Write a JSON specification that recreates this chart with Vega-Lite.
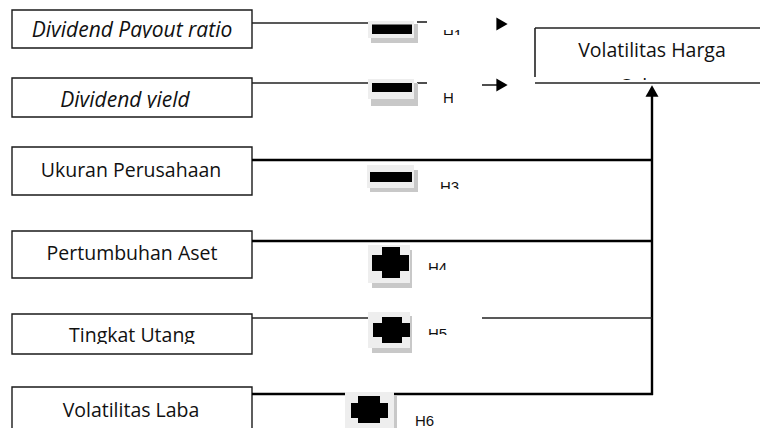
{
  "$schema": "https://vega.github.io/schema/vega-lite/v6.json",
  "width": 760,
  "height": 428,
  "autosize": {"type": "none"},
  "padding": 0,
  "background": "white",
  "config": {"view": {"stroke": null}},
  "datasets": {
    "boxes": [
      {"x": 12, "x2": 252, "y": 10, "y2": 48},
      {"x": 12, "x2": 252, "y": 78, "y2": 117},
      {"x": 12, "x2": 252, "y": 147, "y2": 195},
      {"x": 12, "x2": 252, "y": 231, "y2": 278},
      {"x": 12, "x2": 252, "y": 314, "y2": 354},
      {"x": 12, "x2": 252, "y": 387, "y2": 440}
    ],
    "labels": [
      {"label": "Ukuran Perusahaan", "x": 131, "y": 177},
      {"label": "Pertumbuhan Aset", "x": 132, "y": 260},
      {"label": "Tingkat Utang", "x": 132, "y": 342},
      {"label": "Volatilitas Laba", "x": 131, "y": 417},
      {"label": "Volatilitas Harga", "x": 652, "y": 57},
      {"label": "Saham", "x": 652, "y": 93}
    ],
    "italicLabels": [
      {"label": "Dividend Payout ratio", "x": 132, "y": 37},
      {"label": "Dividend yield", "x": 125, "y": 107}
    ],
    "hyp": [
      {"label": "H1", "x": 443, "y": 40},
      {"label": "H2", "x": 443, "y": 103},
      {"label": "H3", "x": 440, "y": 192},
      {"label": "H4", "x": 428, "y": 273},
      {"label": "H5", "x": 428, "y": 339},
      {"label": "H6", "x": 415, "y": 426}
    ],
    "masks": [
      {"x": 20, "x2": 245, "y": 38, "y2": 46},
      {"x": 20, "x2": 245, "y": 108, "y2": 115},
      {"x": 20, "x2": 245, "y": 344, "y2": 351},
      {"x": 540, "x2": 756, "y": 80, "y2": 100},
      {"x": 436, "x2": 466, "y": 35, "y2": 50},
      {"x": 453, "x2": 472, "y": 88, "y2": 110},
      {"x": 436, "x2": 466, "y": 189, "y2": 205},
      {"x": 424, "x2": 452, "y": 270, "y2": 285},
      {"x": 424, "x2": 452, "y": 335, "y2": 350}
    ],
    "thick": [
      {"x": 252, "y": 160, "x2": 652, "y2": 160},
      {"x": 252, "y": 241, "x2": 652, "y2": 241},
      {"x": 252, "y": 394, "x2": 653, "y2": 394},
      {"x": 652, "y": 92, "x2": 652, "y2": 395}
    ],
    "thin": [
      {"x": 252, "y": 23, "x2": 368, "y2": 23},
      {"x": 252, "y": 83, "x2": 368, "y2": 83},
      {"x": 252, "y": 318, "x2": 370, "y2": 318},
      {"x": 482, "y": 318, "x2": 652, "y2": 318},
      {"x": 417, "y": 22, "x2": 427, "y2": 22},
      {"x": 417, "y": 83, "x2": 427, "y2": 83},
      {"x": 482, "y": 85, "x2": 500, "y2": 85},
      {"x": 535, "y": 28, "x2": 762, "y2": 28},
      {"x": 535, "y": 83, "x2": 762, "y2": 83},
      {"x": 535, "y": 28, "x2": 535, "y2": 77}
    ],
    "heads": [
      {"x": 502, "y": 24, "dir": "right"},
      {"x": 502, "y": 85, "dir": "right"},
      {"x": 652, "y": 91, "dir": "up"}
    ],
    "shadows": [
      {"x": 371, "x2": 418, "y": 24, "y2": 43},
      {"x": 371, "x2": 418, "y": 83, "y2": 106},
      {"x": 370, "x2": 418, "y": 170, "y2": 192},
      {"x": 372, "x2": 412, "y": 250, "y2": 288},
      {"x": 372, "x2": 412, "y": 316, "y2": 353},
      {"x": 349, "x2": 397, "y": 396, "y2": 430}
    ],
    "faces": [
      {"x": 368, "x2": 414, "y": 21, "y2": 38},
      {"x": 368, "x2": 414, "y": 79, "y2": 99},
      {"x": 367, "x2": 414, "y": 165, "y2": 188},
      {"x": 368, "x2": 410, "y": 245, "y2": 283},
      {"x": 368, "x2": 410, "y": 312, "y2": 348},
      {"x": 345, "x2": 394, "y": 392, "y2": 428}
    ],
    "bars": [
      {"x": 372, "x2": 412, "y": 24.5, "y2": 34},
      {"x": 372, "x2": 412, "y": 83, "y2": 92},
      {"x": 370, "x2": 412, "y": 172, "y2": 182},
      {"x": 372, "x2": 409, "y": 255, "y2": 271},
      {"x": 382, "x2": 400, "y": 247, "y2": 278},
      {"x": 373, "x2": 410, "y": 323, "y2": 337},
      {"x": 382, "x2": 402, "y": 317, "y2": 343},
      {"x": 351, "x2": 388, "y": 403, "y2": 418},
      {"x": 358, "x2": 380, "y": 396, "y2": 423}
    ]
  },
  "layer": [
    {
      "data": {"name": "boxes"},
      "mark": {"type": "rect", "fill": "white", "stroke": "#1a1a1a", "strokeWidth": 1.4},
      "encoding": {
        "x": {"field": "x", "type": "quantitative", "scale": {"domain": [0, 760], "nice": false, "zero": false}, "axis": null},
        "x2": {"field": "x2"},
        "y": {"field": "y", "type": "quantitative", "scale": {"domain": [0, 428], "nice": false, "zero": false, "reverse": true}, "axis": null},
        "y2": {"field": "y2"}
      }
    },
    {
      "data": {"name": "labels"},
      "mark": {"type": "text", "font": "Open Sans", "fontSize": 19.5, "align": "center", "baseline": "alphabetic", "fill": "#111"},
      "encoding": {
        "x": {"field": "x", "type": "quantitative", "scale": {"domain": [0, 760], "nice": false, "zero": false}, "axis": null},
        "y": {"field": "y", "type": "quantitative", "scale": {"domain": [0, 428], "nice": false, "zero": false, "reverse": true}, "axis": null},
        "text": {"field": "label"}
      }
    },
    {
      "data": {"name": "italicLabels"},
      "mark": {"type": "text", "font": "Open Sans", "fontSize": 21, "fontStyle": "italic", "align": "center", "baseline": "alphabetic", "fill": "#111"},
      "encoding": {
        "x": {"field": "x", "type": "quantitative", "scale": {"domain": [0, 760], "nice": false, "zero": false}, "axis": null},
        "y": {"field": "y", "type": "quantitative", "scale": {"domain": [0, 428], "nice": false, "zero": false, "reverse": true}, "axis": null},
        "text": {"field": "label"}
      }
    },
    {
      "data": {"name": "hyp"},
      "mark": {"type": "text", "font": "Liberation Sans", "fontSize": 15, "align": "left", "baseline": "alphabetic", "fill": "#111"},
      "encoding": {
        "x": {"field": "x", "type": "quantitative", "scale": {"domain": [0, 760], "nice": false, "zero": false}, "axis": null},
        "y": {"field": "y", "type": "quantitative", "scale": {"domain": [0, 428], "nice": false, "zero": false, "reverse": true}, "axis": null},
        "text": {"field": "label"}
      }
    },
    {
      "data": {"name": "masks"},
      "mark": {"type": "rect", "fill": "white"},
      "encoding": {
        "x": {"field": "x", "type": "quantitative", "scale": {"domain": [0, 760], "nice": false, "zero": false}, "axis": null},
        "x2": {"field": "x2"},
        "y": {"field": "y", "type": "quantitative", "scale": {"domain": [0, 428], "nice": false, "zero": false, "reverse": true}, "axis": null},
        "y2": {"field": "y2"}
      }
    },
    {
      "data": {"name": "thick"},
      "mark": {"type": "rule", "stroke": "#000", "strokeWidth": 2.4},
      "encoding": {
        "x": {"field": "x", "type": "quantitative", "scale": {"domain": [0, 760], "nice": false, "zero": false}, "axis": null},
        "x2": {"field": "x2"},
        "y": {"field": "y", "type": "quantitative", "scale": {"domain": [0, 428], "nice": false, "zero": false, "reverse": true}, "axis": null},
        "y2": {"field": "y2"}
      }
    },
    {
      "data": {"name": "thin"},
      "mark": {"type": "rule", "stroke": "#222", "strokeWidth": 1.6},
      "encoding": {
        "x": {"field": "x", "type": "quantitative", "scale": {"domain": [0, 760], "nice": false, "zero": false}, "axis": null},
        "x2": {"field": "x2"},
        "y": {"field": "y", "type": "quantitative", "scale": {"domain": [0, 428], "nice": false, "zero": false, "reverse": true}, "axis": null},
        "y2": {"field": "y2"}
      }
    },
    {
      "data": {"name": "heads"},
      "mark": {"type": "point", "filled": true, "fill": "#000", "size": 170, "opacity": 1},
      "encoding": {
        "x": {"field": "x", "type": "quantitative", "scale": {"domain": [0, 760], "nice": false, "zero": false}, "axis": null},
        "y": {"field": "y", "type": "quantitative", "scale": {"domain": [0, 428], "nice": false, "zero": false, "reverse": true}, "axis": null},
        "shape": {"field": "dir", "type": "nominal", "scale": {"domain": ["right", "up"], "range": ["triangle-right", "triangle-up"]}, "legend": null}
      }
    },
    {
      "data": {"name": "shadows"},
      "mark": {"type": "rect", "fill": "#c8c8c8"},
      "encoding": {
        "x": {"field": "x", "type": "quantitative", "scale": {"domain": [0, 760], "nice": false, "zero": false}, "axis": null},
        "x2": {"field": "x2"},
        "y": {"field": "y", "type": "quantitative", "scale": {"domain": [0, 428], "nice": false, "zero": false, "reverse": true}, "axis": null},
        "y2": {"field": "y2"}
      }
    },
    {
      "data": {"name": "faces"},
      "mark": {"type": "rect", "fill": "#eeeeee"},
      "encoding": {
        "x": {"field": "x", "type": "quantitative", "scale": {"domain": [0, 760], "nice": false, "zero": false}, "axis": null},
        "x2": {"field": "x2"},
        "y": {"field": "y", "type": "quantitative", "scale": {"domain": [0, 428], "nice": false, "zero": false, "reverse": true}, "axis": null},
        "y2": {"field": "y2"}
      }
    },
    {
      "data": {"name": "bars"},
      "mark": {"type": "rect", "fill": "#000"},
      "encoding": {
        "x": {"field": "x", "type": "quantitative", "scale": {"domain": [0, 760], "nice": false, "zero": false}, "axis": null},
        "x2": {"field": "x2"},
        "y": {"field": "y", "type": "quantitative", "scale": {"domain": [0, 428], "nice": false, "zero": false, "reverse": true}, "axis": null},
        "y2": {"field": "y2"}
      }
    }
  ]
}
